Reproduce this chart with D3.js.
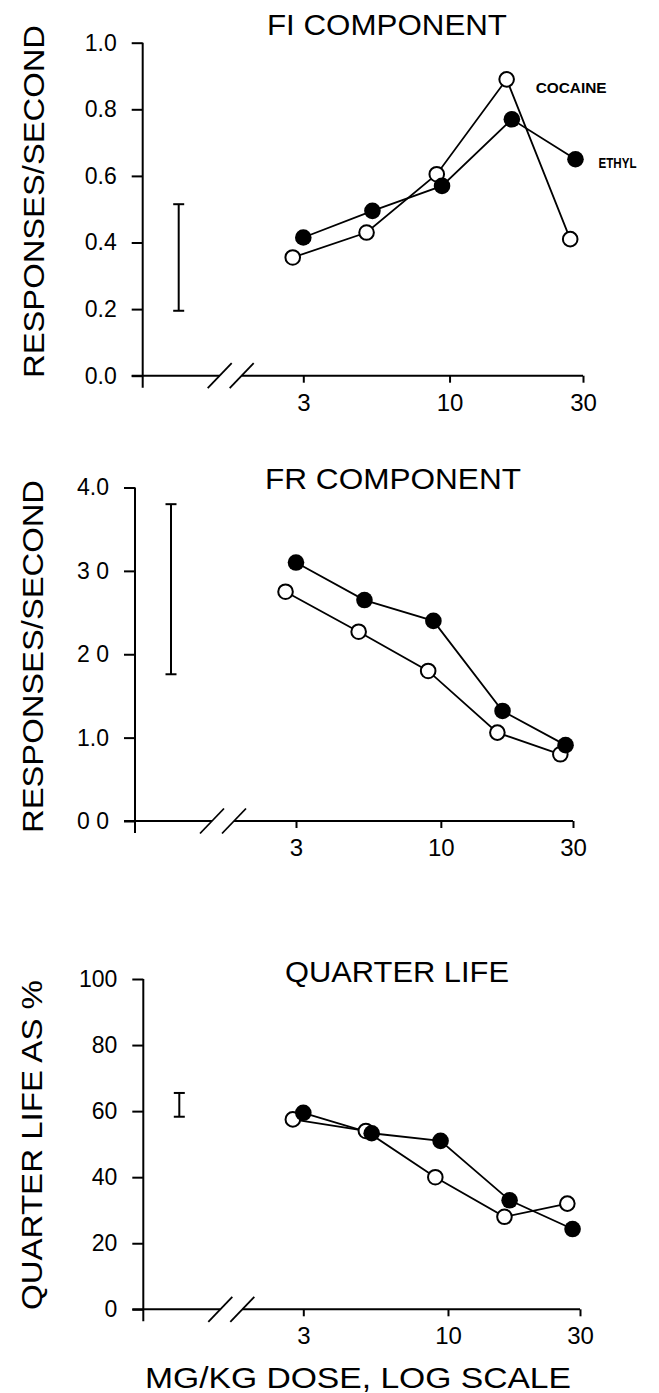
<!DOCTYPE html>
<html>
<head>
<meta charset="utf-8">
<script src="https://cdn.jsdelivr.net/npm/d3@7"></script>
<style>
    body { margin: 0; background: #fff; }
    svg { display: block; background: #fff; }
</style>
</head>
<body>
<svg id="chart" width="659" height="1393"></svg>
<script>
// doses (mg/kg); cocaine points sit a little left of ethyl
const xTicks = [3, 10, 30];
const doseCocaine = [2.75, 5.05, 9.0, 16.0, 27.0];
const doseEthyl = [3.0, 5.3, 9.4, 16.7, 28.2];

const fiCocaine = [0.355, 0.43, 0.605, 0.89, 0.41];
const fiEthyl = [0.415, 0.495, 0.57, 0.77, 0.65];
const frCocaine = [2.75, 2.27, 1.80, 1.06, 0.80];
const frEthyl = [3.10, 2.65, 2.40, 1.32, 0.91];
const qlCocaine = [57.5, 54, 40, 28, 32];
const qlEthyl = [59.5, 53.3, 51, 33, 24.3];

const fiTicks = [0, 0.2, 0.4, 0.6, 0.8, 1.0];
const fiTickLabels = ["0.0", "0.2", "0.4", "0.6", "0.8", "1.0"];
const frTicks = [0, 1, 2, 3, 4];
const frTickLabels = ["0 0", "1.0", "2 0", "3 0", "4.0"];
const qlTicks = [0, 20, 40, 60, 80, 100];
const qlTickLabels = ["0", "20", "40", "60", "80", "100"];

// control-condition error bars [low, high]
const fiErrorBar = [0.195, 0.515];
const frErrorBar = [1.76, 3.8];
const qlErrorBar = [58.3, 65.5];

const panelTitles = ["FI COMPONENT", "FR COMPONENT", "QUARTER LIFE"];
const yTitles = ["RESPONSES/SECOND", "RESPONSES/SECOND", "QUARTER LIFE AS %"];
const xTitle = "MG/KG DOSE, LOG SCALE";
const seriesNames = ["COCAINE", "ETHYL"];

const FONT = '"Liberation Sans", Arial, sans-serif';

let svg = d3.select('#chart');

// pixel layout of each panel
const layouts = [
    { left: 142.7, top: 42.7, bottom: 375.7, x3: 303.3, x30: 583, titleX: 387, titleY: 35, titleW: 240, yTitleX: 43.5, yTitleY: 201.5, yTitleW: 353 },
    { left: 135, top: 487.5, bottom: 821, x3: 296, x30: 573, titleX: 393, titleY: 489, titleW: 256, yTitleX: 43, yTitleY: 656.5, yTitleW: 353 },
    { left: 143.3, top: 979, bottom: 1309.3, x3: 303.3, x30: 580, titleX: 397, titleY: 982, titleW: 224, yTitleX: 42, yTitleY: 1145, yTitleW: 330 }
];

function drawPanel(L, yMax, ticks, tickLabels, errorBar, cocaine, ethyl, title, yTitle) {
    let g = svg.append('g');

    let x = d3.scaleLog().domain([3, 30]).range([L.x3, L.x30]);
    let y = d3.scaleLinear().domain([0, yMax]).range([L.bottom, L.top]);

    // y axis
    let yAxis = g.append('g')
        .attr('transform', `translate(${L.left},0)`)
        .call(d3.axisLeft(y).tickValues(ticks).tickFormat((d, i) => tickLabels[i]).tickSize(11).tickPadding(15));
    yAxis.select('.domain').remove();
    yAxis.selectAll('line').attr('stroke', '#000').attr('stroke-width', 2);
    yAxis.selectAll('text').attr('font-family', FONT).attr('font-size', 23).attr('fill', '#000');

    g.append('line')
        .attr('x1', L.left).attr('x2', L.left)
        .attr('y1', y(yMax)).attr('y2', y(0) + 12)
        .attr('stroke', '#000').attr('stroke-width', 2);

    // x axis, log scale with a break after the control region
    let xAxis = g.append('g')
        .attr('transform', `translate(0,${L.bottom})`)
        .call(d3.axisBottom(x).tickValues(xTicks).tickFormat(d3.format('d')).tickSize(7).tickPadding(11));
    xAxis.select('.domain').remove();
    xAxis.selectAll('line').attr('stroke', '#000').attr('stroke-width', 2);
    xAxis.selectAll('text').attr('font-family', FONT).attr('font-size', 24).attr('fill', '#000');

    let b1 = L.left + 77, b2 = L.left + 99;
    g.append('line')
        .attr('x1', L.left - 11).attr('x2', b1)
        .attr('y1', y(0)).attr('y2', y(0))
        .attr('stroke', '#000').attr('stroke-width', 2);
    g.append('line')
        .attr('x1', b2).attr('x2', x(30))
        .attr('y1', y(0)).attr('y2', y(0))
        .attr('stroke', '#000').attr('stroke-width', 2);
    [b1, b2].forEach(cx => {
        g.append('line')
            .attr('x1', cx - 12).attr('y1', y(0) + 12.5)
            .attr('x2', cx + 12).attr('y2', y(0) - 12.5)
            .attr('stroke', '#000').attr('stroke-width', 1.8);
    });

    // error bar for control
    let ex = L.left + 36;
    g.append('line')
        .attr('x1', ex).attr('x2', ex)
        .attr('y1', y(errorBar[0])).attr('y2', y(errorBar[1]))
        .attr('stroke', '#000').attr('stroke-width', 2);
    errorBar.forEach(v => {
        g.append('line')
            .attr('x1', ex - 5.5).attr('x2', ex + 5.5)
            .attr('y1', y(v)).attr('y2', y(v))
            .attr('stroke', '#000').attr('stroke-width', 2);
    });

    let cocainePts = doseCocaine.map((d, i) => [d, cocaine[i]]);
    let ethylPts = doseEthyl.map((d, i) => [d, ethyl[i]]);
    let line = d3.line().x(d => x(d[0])).y(d => y(d[1]));

    [cocainePts, ethylPts].forEach(pts => {
        g.append('path')
            .attr('d', line(pts))
            .attr('fill', 'none')
            .attr('stroke', '#000')
            .attr('stroke-width', 1.8);
    });

    g.selectAll('circle.open')
        .data(cocainePts)
        .join('circle')
        .attr('class', 'open')
        .attr('cx', d => x(d[0]))
        .attr('cy', d => y(d[1]))
        .attr('r', 7.3)
        .attr('fill', '#fff')
        .attr('stroke', '#000')
        .attr('stroke-width', 2);

    g.selectAll('circle.filled')
        .data(ethylPts)
        .join('circle')
        .attr('class', 'filled')
        .attr('cx', d => x(d[0]))
        .attr('cy', d => y(d[1]))
        .attr('r', 8.3)
        .attr('fill', '#000');

    // titles
    g.append('text')
        .attr('x', L.titleX).attr('y', L.titleY)
        .attr('text-anchor', 'middle')
        .attr('font-family', FONT).attr('font-size', 29)
        .attr('textLength', L.titleW).attr('lengthAdjust', 'spacingAndGlyphs')
        .text(title);

    g.append('text')
        .attr('transform', `translate(${L.yTitleX},${L.yTitleY}) rotate(-90)`)
        .attr('text-anchor', 'middle')
        .attr('font-family', FONT).attr('font-size', 30)
        .attr('textLength', L.yTitleW).attr('lengthAdjust', 'spacingAndGlyphs')
        .text(yTitle);

    return { x: x, y: y, g: g };
}

let p1 = drawPanel(layouts[0], 1.0, fiTicks, fiTickLabels, fiErrorBar, fiCocaine, fiEthyl, panelTitles[0], yTitles[0]);
drawPanel(layouts[1], 4.0, frTicks, frTickLabels, frErrorBar, frCocaine, frEthyl, panelTitles[1], yTitles[1]);
drawPanel(layouts[2], 100, qlTicks, qlTickLabels, qlErrorBar, qlCocaine, qlEthyl, panelTitles[2], yTitles[2]);

// series labels next to the FI curves
p1.g.append('text')
    .attr('x', p1.x(doseCocaine[3]) + 29).attr('y', p1.y(fiCocaine[3]) + 14)
    .attr('font-family', FONT).attr('font-size', 15).attr('font-weight', 'bold')
    .attr('textLength', 71).attr('lengthAdjust', 'spacingAndGlyphs')
    .text(seriesNames[0]);
p1.g.append('text')
    .attr('x', p1.x(doseEthyl[4]) + 23).attr('y', p1.y(fiEthyl[4]) + 9)
    .attr('font-family', FONT).attr('font-size', 15).attr('font-weight', 'bold')
    .attr('textLength', 38).attr('lengthAdjust', 'spacingAndGlyphs')
    .text(seriesNames[1]);

// x axis title
svg.append('text')
    .attr('x', 358).attr('y', 1388)
    .attr('text-anchor', 'middle')
    .attr('font-family', FONT).attr('font-size', 30)
    .attr('textLength', 426).attr('lengthAdjust', 'spacingAndGlyphs')
    .text(xTitle);
</script>
</body>
</html>
